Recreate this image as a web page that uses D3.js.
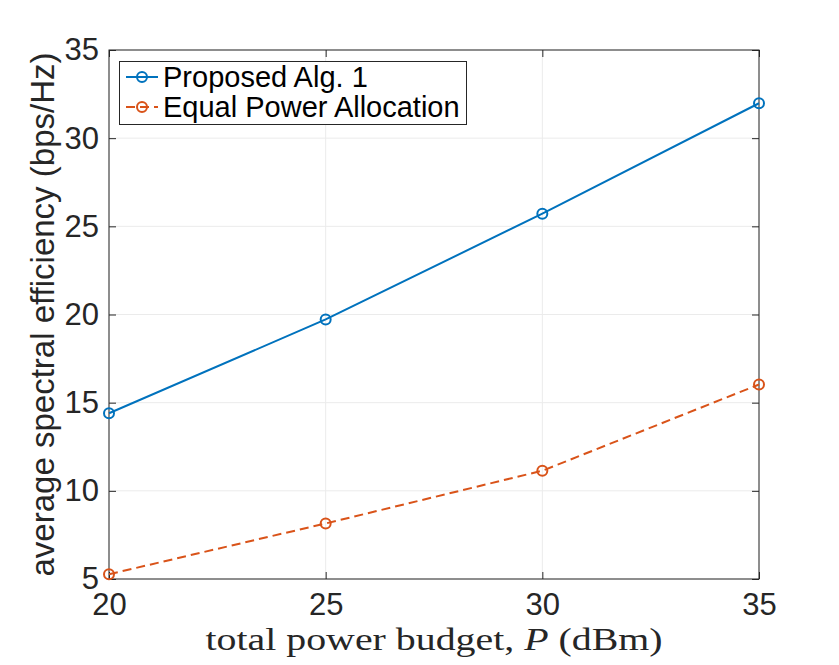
<!DOCTYPE html>
<html>
<head>
<meta charset="utf-8">
<script src="https://cdn.jsdelivr.net/npm/d3@7"></script>
<style>
  html, body { margin: 0; padding: 0; background: #fff; }
  svg { display: block; }
</style>
</head>
<body>
<svg id="chart" width="839" height="665"></svg>
<script>
// data
const powerBudget = [20, 25, 30, 35]            // dBm
const proposedAlg = [14.4, 19.72, 25.72, 31.98]
const equalPower = [5.27, 8.15, 11.14, 16.03]
const xTicks = [20, 25, 30, 35]
const yTicks = [5, 10, 15, 20, 25, 30, 35]

const seriesNames = ["Proposed Alg. 1", "Equal Power Allocation"]

// style
const colors = ['#0072BD', '#D95319']
const dashes = [null, '9,5']
const axisColor = '#262626'
const gridColor = '#ebebeb'
const sans = "'Liberation Sans', Arial, Helvetica, sans-serif"

const margin = { left: 109, top: 50, right: 839 - 759, bottom: 665 - 579 }
const W = 839, H = 665
const iw = W - margin.left - margin.right
const ih = H - margin.top - margin.bottom

const svg = d3.select('#chart')
const g = svg.append('g').attr('transform', `translate(${margin.left},${margin.top})`)

const x = d3.scaleLinear().domain([20, 35]).range([0, iw])
const y = d3.scaleLinear().domain([5, 35]).range([ih, 0])

// grid
g.append('g').selectAll('line.gx').data(xTicks).join('line')
	.attr('x1', d => x(d)).attr('x2', d => x(d))
	.attr('y1', 0).attr('y2', ih)
	.attr('stroke', gridColor).attr('stroke-width', 1)
g.append('g').selectAll('line.gy').data(yTicks).join('line')
	.attr('y1', d => y(d)).attr('y2', d => y(d))
	.attr('x1', 0).attr('x2', iw)
	.attr('stroke', gridColor).attr('stroke-width', 1)

// axes: inward ticks, mirrored on top/right
const tick = 7
const styleAxis = sel => {
	sel.select('.domain').remove()
	sel.selectAll('.tick line').attr('stroke', axisColor).attr('stroke-width', 1)
	sel.selectAll('.tick text').attr('fill', axisColor)
		.style('font-family', sans).style('font-size', '31px')
}

g.append('g').attr('transform', `translate(0,${ih})`)
	.call(d3.axisBottom(x).tickValues(xTicks).tickFormat(d3.format('d'))
		.tickSizeInner(-tick).tickSizeOuter(0).tickPadding(14))
	.call(styleAxis)
g.append('g')
	.call(d3.axisTop(x).tickValues(xTicks).tickFormat('')
		.tickSizeInner(-tick).tickSizeOuter(0))
	.call(styleAxis)
g.append('g')
	.call(d3.axisLeft(y).tickValues(yTicks).tickFormat(d3.format('d'))
		.tickSizeInner(-tick).tickSizeOuter(0).tickPadding(10))
	.call(styleAxis)
g.append('g').attr('transform', `translate(${iw},0)`)
	.call(d3.axisRight(y).tickValues(yTicks).tickFormat('')
		.tickSizeInner(-tick).tickSizeOuter(0))
	.call(styleAxis)

// box
g.append('rect').attr('x', 0).attr('y', 0).attr('width', iw).attr('height', ih)
	.attr('fill', 'none').attr('stroke', axisColor).attr('stroke-width', 1)

// series
const series = [proposedAlg, equalPower]
const line = d3.line().x((d, i) => x(powerBudget[i])).y(d => y(d))

series.forEach((vals, k) => {
	g.append('path').datum(vals)
		.attr('d', line)
		.attr('fill', 'none')
		.attr('stroke', colors[k])
		.attr('stroke-width', 2)
		.attr('stroke-dasharray', dashes[k])
	g.append('g').selectAll('circle').data(vals).join('circle')
		.attr('cx', (d, i) => x(powerBudget[i]))
		.attr('cy', d => y(d))
		.attr('r', 5)
		.attr('fill', 'none')
		.attr('stroke', colors[k])
		.attr('stroke-width', 2)
})

// axis labels
svg.append('text')
	.attr('transform', `translate(54,${margin.top + ih / 2}) rotate(-90)`)
	.attr('text-anchor', 'middle')
	.attr('fill', axisColor)
	.style('font-family', sans).style('font-size', '33px')
	.text('average spectral efficiency (bps/Hz)')

const xl = svg.append('text')
	.attr('x', margin.left + iw / 2).attr('y', 650)
	.attr('text-anchor', 'middle')
	.attr('fill', axisColor)
	.attr('textLength', 457).attr('lengthAdjust', 'spacingAndGlyphs')
	.style('font-family', "'Liberation Serif', 'Times New Roman', serif").style('font-size', '32px')
xl.append('tspan').text('total power budget, ')
xl.append('tspan').style('font-style', 'italic').text('P')
xl.append('tspan').text(' (dBm)')

// legend
const leg = svg.append('g')
leg.append('rect').attr('x', 119.5).attr('y', 61.5).attr('width', 347).attr('height', 63)
	.attr('fill', '#fff').attr('stroke', axisColor).attr('stroke-width', 1)
seriesNames.forEach((name, k) => {
	const ly = 77 + k * 30
	leg.append('line').attr('x1', 126).attr('x2', 158).attr('y1', ly).attr('y2', ly)
		.attr('stroke', colors[k]).attr('stroke-width', 2)
		.attr('stroke-dasharray', dashes[k])
	leg.append('circle').attr('cx', 142).attr('cy', ly).attr('r', 5)
		.attr('fill', 'none').attr('stroke', colors[k]).attr('stroke-width', 2)
	leg.append('text').attr('x', 163).attr('y', ly + 9.5)
		.attr('fill', '#000')
		.style('font-family', sans).style('font-size', '29px')
		.text(name)
})
</script>
</body>
</html>
